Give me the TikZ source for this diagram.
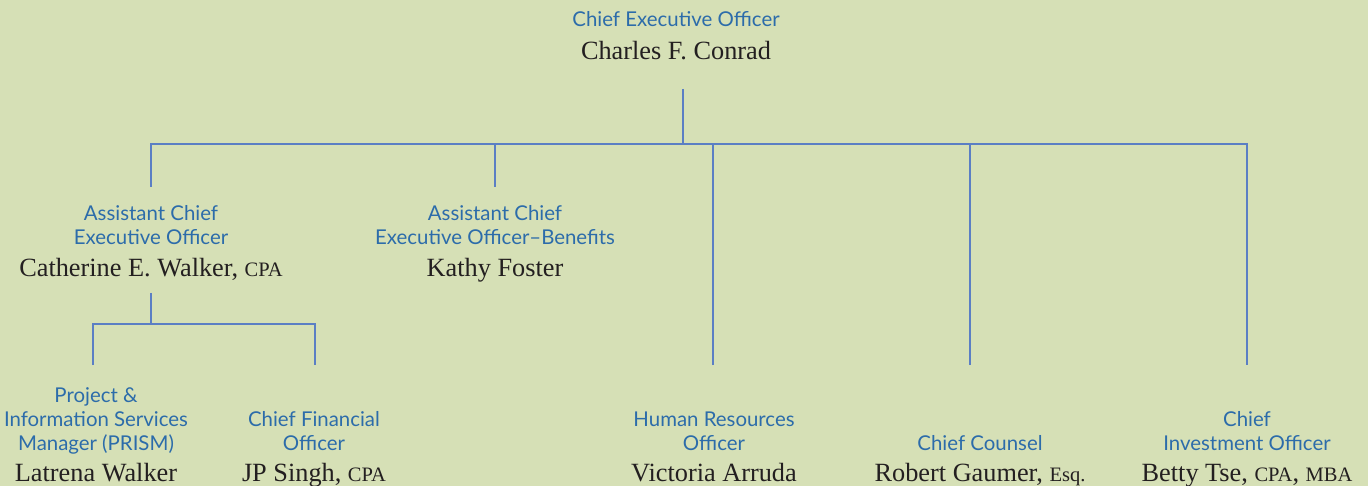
\documentclass[tikz,border=0pt]{standalone}
\usepackage{fontspec}
\setmainfont{Liberation Serif}
\newfontfamily\ttlfont{Lato}
\definecolor{bg}{HTML}{D6E0B6}
\definecolor{ln}{HTML}{5B7FC4}
\definecolor{tb}{HTML}{2C6CAA}
\definecolor{nm}{HTML}{231F20}
\newcommand{\sm}[1]{{\fontsize{20.5}{20}\selectfont #1}}
\tikzset{
  ttl/.style={anchor=base, inner sep=0pt, text=tb, font=\ttlfont\fontsize{20.4}{21}\selectfont},
  nam/.style={anchor=base, inner sep=0pt, text=nm, font=\fontsize{26.3}{27}\selectfont},
  conn/.style={draw=ln, line width=2.5pt}
}
\begin{document}
\begin{tikzpicture}[x=1pt,y=-1pt]
\fill[bg] (0,0) rectangle (1368,486);
\useasboundingbox (0,0) rectangle (1368,486);
% CEO
\node[ttl] (ceoT) at (676,27) {Chief Executive Officer};
\node[nam] (ceoN) at (676,60) {Charles F. Conrad};
% Assistant CEO
\node[ttl] (acT1) at (151,221) {Assistant Chief};
\node[ttl] (acT2) at (151,245) {Executive Officer};
\node[nam] (acN) at (151,277) {Catherine E. Walker, \sm{CPA}};
% Assistant CEO Benefits
\node[ttl] (abT1) at (495,221) {Assistant Chief};
\node[ttl] (abT2) at (495,245) {Executive Officer–Benefits};
\node[nam] (abN) at (495,277) {Kathy Foster};
% PRISM
\node[ttl] (prT1) at (96,402) {Project \&};
\node[ttl] (prT2) at (96,426) {Information Services};
\node[ttl] (prT3) at (96,450) {Manager (PRISM)};
\node[nam] (prN) at (96,481) {Latrena Walker};
% CFO
\node[ttl] (cfT1) at (314,426) {Chief Financial};
\node[ttl] (cfT2) at (314,450) {Officer};
\node[nam] (cfN) at (314,481) {JP Singh, \sm{CPA}};
% HR
\node[ttl] (hrT1) at (714,426) {Human Resources};
\node[ttl] (hrT2) at (714,450) {Officer};
\node[nam] (hrN) at (714,481) {Victoria Arruda};
% Counsel
\node[ttl] (ccT1) at (980,450) {Chief Counsel};
\node[nam] (ccN) at (980,481) {Robert Gaumer, \sm{Esq.}};
% CIO
\node[ttl] (ciT1) at (1247,426) {Chief};
\node[ttl] (ciT2) at (1247,450) {Investment Officer};
\node[nam] (ciN) at (1247,481) {Betty Tse, \sm{CPA}, \sm{MBA}};
% connector points
\coordinate (ceoB) at (683,89);
\coordinate (ceoJ) at (683,144);
\coordinate (barL) at (151,144);
\coordinate (barR) at (1247,144);
\coordinate (acTop) at (151,187);
\coordinate (abTop) at (495,187);
\coordinate (hrTop) at (713,365);
\coordinate (ccTop) at (970,365);
\coordinate (ciTop) at (1247,365);
\coordinate (acB) at (151,293);
\coordinate (acJ) at (151,324);
\coordinate (subL) at (93,324);
\coordinate (subR) at (315,324);
\coordinate (prTop) at (93,365);
\coordinate (cfTop) at (315,365);
\draw[conn] (ceoB) -- (ceoJ);
\draw[conn] (acTop) -- (barL) -- (barR) -- (ciTop);
\draw[conn] (abTop) -- (abTop |- barL);
\draw[conn] (hrTop) -- (hrTop |- barL);
\draw[conn] (ccTop) -- (ccTop |- barL);
\draw[conn] (acB) -- (acJ);
\draw[conn] (prTop) -- (subL) -- (subR) -- (cfTop);
\end{tikzpicture}
\end{document}
